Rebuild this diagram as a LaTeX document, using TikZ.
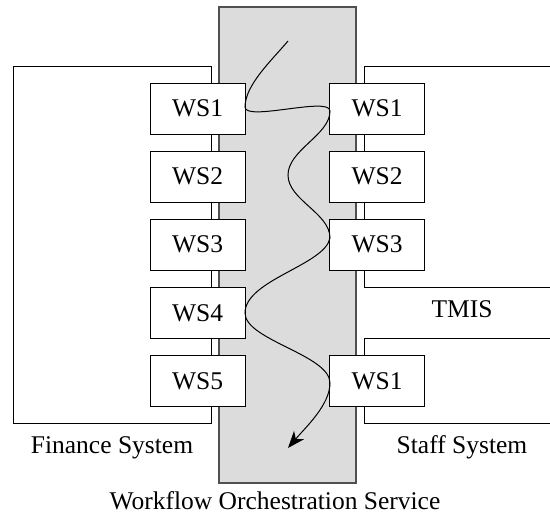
\documentclass[tikz,border=0pt]{standalone}
\usepackage{fontspec}
\setmainfont{Liberation Serif}
\usetikzlibrary{arrows.meta}
\definecolor{bandgray}{RGB}{220,220,220}
\definecolor{bandedge}{RGB}{80,80,80}
\begin{document}
\begin{tikzpicture}[x=1pt,y=-1pt,
  wsbox/.style={draw=black, line width=1pt, fill=white, minimum width=95pt, minimum height=51pt, inner sep=0pt, font=\fontsize{25.5}{30}\selectfont},
  lbl/.style={anchor=base, inner sep=0pt, font=\fontsize{25.5}{30}\selectfont},
  sysline/.style={draw=black, line width=1pt},
  flow/.style={draw=black, line width=1pt}]
\useasboundingbox (0,0) rectangle (550,515);
% orchestration band
\node[draw=bandedge, fill=bandgray, line width=1.3pt, minimum width=137pt, minimum height=476pt, inner sep=0pt] (wos) at (287.5,245) {};
% finance system box
\node[sysline, minimum width=198pt, minimum height=357pt, inner sep=0pt] (fin) at (112,244.5) {};
% staff system boxes (open to the right)
\draw[sysline] (550,66) -- (364,66) -- (364,287) -- (550,287);
\draw[sysline] (550,338) -- (364,338) -- (364,423) -- (550,423);
% web service boxes
\node[wsbox] (l1) at (197.5,108.5) {WS1};
\node[wsbox] (l2) at (197.5,176.5) {WS2};
\node[wsbox] (l3) at (197.5,244.5) {WS3};
\node[wsbox] (l4) at (197.5,313) {WS4};
\node[wsbox] (l5) at (197.5,381) {WS5};
\node[wsbox] (r1) at (377,108.5) {WS1};
\node[wsbox] (r2) at (377,176.5) {WS2};
\node[wsbox] (r3) at (377,244.5) {WS3};
\node[wsbox] (r4) at (377,381) {WS1};
% labels
\node[lbl] (finlbl) at (112,453) {Finance System};
\node[lbl] (stafflbl) at (462,453) {Staff System};
\node[lbl] (tmis) at (462,317) {TMIS};
\node[lbl] (woslbl) at (275,509) {Workflow Orchestration Service};
% flow curve
\coordinate (start) at (288,41);
\coordinate (p1) at (245,107);
\coordinate (p2) at (330,111);
\coordinate (p3) at (288,175);
\coordinate (p4) at (330,238);
\coordinate (p5) at (245,313);
\coordinate (p6) at (330,383);
\coordinate (tip) at (288,448);
\draw[flow, -{Stealth[length=17pt,width=13pt,inset=5pt]}] (start)
  .. controls (272,60) and (245,85) .. (p1)
  .. controls (245,122) and (330,96) .. (p2)
  .. controls (330,135) and (288,150) .. (p3)
  .. controls (288,200) and (330,213) .. (p4)
  .. controls (325,265) and (245,280) .. (p5)
  .. controls (245,340) and (330,355) .. (p6)
  .. controls (330,405) and (305,428) .. (tip);
\end{tikzpicture}
\end{document}
